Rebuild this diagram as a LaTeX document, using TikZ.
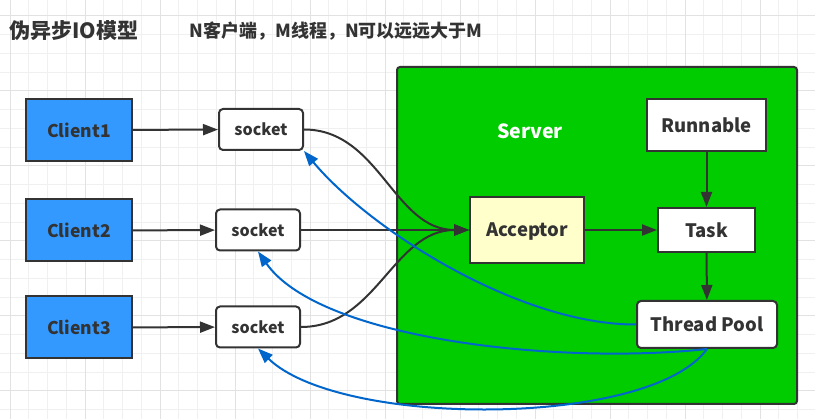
\documentclass[tikz,border=0pt]{standalone}
\usepackage{fontspec}
\setmainfont{Noto Sans CJK SC}
\usetikzlibrary{arrows.meta}
\definecolor{ink}{HTML}{333333}
\definecolor{clientblue}{HTML}{3399FF}
\definecolor{servergreen}{HTML}{00CC00}
\definecolor{acceptyellow}{HTML}{FFFFCC}
\definecolor{backblue}{HTML}{0066CC}
\definecolor{gridlight}{HTML}{F0F0F0}
\definecolor{griddark}{HTML}{E2E2E2}

\begin{document}
\begin{tikzpicture}[x=1pt,y=-1pt,
    >={Triangle[length=15pt,width=11pt]},
    every node/.style={font=\fontsize{18.5}{20}\selectfont\bfseries, text=ink, text depth=0pt},
    box/.style={draw=ink, line width=2pt, inner sep=0pt},
    client/.style={box, fill=clientblue, minimum width=106pt, minimum height=62pt, font=\fontsize{17.5}{19}\selectfont\bfseries},
    sock/.style={box, fill=white, rounded corners=4pt, minimum width=84pt, minimum height=41pt, font=\fontsize{16}{18}\selectfont\bfseries},
    flow/.style={draw=ink, line width=2pt, ->},
    back/.style={draw=backblue, line width=2pt, ->}]
        \useasboundingbox (0,0) rectangle (815,419);
        % grid
        \foreach \x in {10,28.75,...,815} \draw[gridlight, line width=1pt] (\x,0) -- (\x,419);
        \foreach \y in {16,34.75,...,419} \draw[gridlight, line width=1pt] (0,\y) -- (815,\y);
        \foreach \x in {10,85,...,815} \draw[griddark, line width=1pt] (\x,0) -- (\x,419);
        \foreach \y in {16,91,...,419} \draw[griddark, line width=1pt] (0,\y) -- (815,\y);

        \node[anchor=west, font=\fontsize{21}{23}\selectfont\bfseries] (title) at (6,30) {伪异步IO模型};
        \node[anchor=west, font=\fontsize{18}{20}\selectfont\bfseries] (note) at (186,30) {N客户端，M线程，N可以远远大于M};

        \node[box, fill=servergreen, rounded corners=3pt, minimum width=400pt, minimum height=337pt] (server) at (597,235.5) {};
        \node[text=white, font=\fontsize{19.5}{21}\selectfont\bfseries] (serverlabel) at (530,131) {Server};

        \node[client] (c1) at (79,130) {Client1};
        \node[client] (c2) at (79,230.5) {Client2};
        \node[client] (c3) at (79,327.5) {Client3};
        \node[sock] (s1) at (261,129.5) {socket};
        \node[sock] (s2) at (258,230) {socket};
        \node[sock] (s3) at (258,327) {socket};

        \node[box, fill=acceptyellow, minimum width=114pt, minimum height=66pt] (acc) at (527,230) {Acceptor};
        \node[box, fill=white, minimum width=119pt, minimum height=52pt] (run) at (706.5,125) {Runnable};
        \node[box, fill=white, minimum width=97pt, minimum height=44pt] (task) at (706.5,230) {Task};
        \node[box, fill=white, rounded corners=4pt, minimum width=140pt, minimum height=47pt] (pool) at (707,324.5) {Thread Pool};

        \draw[flow] (c1) -- (s1);
        \draw[flow] (c2) -- (s2);
        \draw[flow] (c3) -- (s3);
        \draw[flow] (s1.east) to[out=0,in=180] (acc.west);
        \draw[flow] (s2) -- (acc);
        \draw[flow] (s3.east) to[out=0,in=180] (acc.west);
        \draw[flow] (acc) -- (task);
        \draw[flow] (run) -- (task);
        \draw[flow] (task) -- (pool);

        \draw[back] (pool.west) .. controls (520,325) and (370,230) .. (s1.south east);
        \draw[back] (pool.south) .. controls (560,365) and (320,340) .. (s2.south);
        \draw[back] (pool.south) .. controls (650,428) and (340,428) .. (s3.south);
    \end{tikzpicture}
\end{document}
